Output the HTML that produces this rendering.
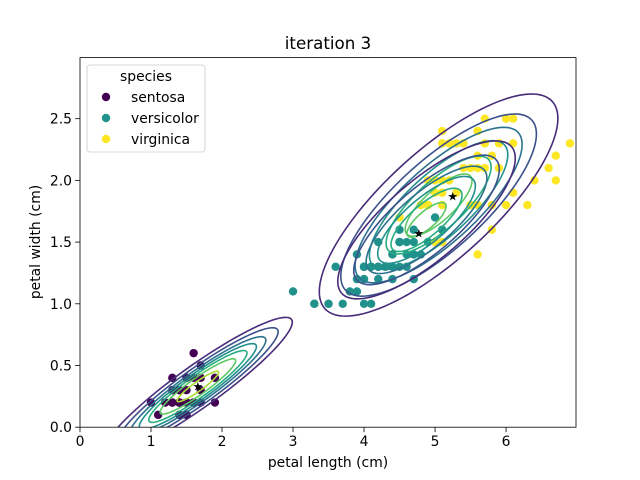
<!DOCTYPE html>
<html><head><meta charset="utf-8"><style>
body{margin:0;background:#fff;}
svg{display:block;font-family:"DejaVu Sans","Liberation Sans",sans-serif;}
</style></head><body>
<svg id="chart" width="640" height="480" viewBox="0 0 640 480">
<rect width="640" height="480" fill="#fff"/>
<text x="328" y="49" text-anchor="middle" font-size="16.7">iteration 3</text>
<defs><clipPath id="clip"><rect x="80" y="57.6" width="496" height="369.6"/></clipPath></defs>
<g id="points" clip-path="url(#clip)"></g>
<g id="contours" clip-path="url(#clip)"></g>
<g id="stars"></g>
<rect x="80" y="57.6" width="496" height="369.6" fill="none" stroke="#000" stroke-width="0.8"/>
<g id="axes"></g>
<text x="328" y="467" text-anchor="middle" font-size="13.9">petal length (cm)</text>
<text transform="translate(40,242) rotate(-90)" text-anchor="middle" font-size="13.9">petal width (cm)</text>
<g id="legend">
<rect x="87" y="65" width="118" height="87" rx="3" fill="#fff" fill-opacity="0.8" stroke="#ccc" stroke-width="0.8"/>
<text x="146" y="81" text-anchor="middle" font-size="13.9">species</text>
<circle cx="106" cy="97" r="4.2" fill="#440154"/>
<text x="131" y="102" font-size="13.9">sentosa</text>
<circle cx="106" cy="118" r="4.2" fill="#21918c"/>
<text x="131" y="123" font-size="13.9">versicolor</text>
<circle cx="106" cy="139" r="4.2" fill="#fde725"/>
<text x="131" y="144" font-size="13.9">virginica</text>
</g>
</svg>
<script>
const xTicks=[0,1,2,3,4,5,6];
const yTicks=[0.0,0.5,1.0,1.5,2.0,2.5];
const speciesColors=['#440154','#21918c','#fde725'];
const setosa=[[1.4,0.2],[1.4,0.2],[1.3,0.2],[1.5,0.2],[1.4,0.2],[1.7,0.4],[1.4,0.3],[1.5,0.2],[1.4,0.2],[1.5,0.1],[1.5,0.2],[1.6,0.2],[1.4,0.1],[1.1,0.1],[1.2,0.2],[1.5,0.4],[1.3,0.4],[1.4,0.3],[1.7,0.3],[1.5,0.3],[1.7,0.2],[1.5,0.4],[1.0,0.2],[1.7,0.5],[1.9,0.2],[1.6,0.2],[1.6,0.4],[1.5,0.2],[1.4,0.2],[1.6,0.2],[1.6,0.2],[1.5,0.4],[1.5,0.1],[1.4,0.2],[1.5,0.2],[1.2,0.2],[1.3,0.2],[1.4,0.1],[1.3,0.2],[1.5,0.2],[1.3,0.3],[1.3,0.3],[1.3,0.2],[1.6,0.6],[1.9,0.4],[1.4,0.3],[1.6,0.2],[1.4,0.2],[1.5,0.2],[1.4,0.2]];
const versicolor=[[4.7,1.4],[4.5,1.5],[4.9,1.5],[4.0,1.3],[4.6,1.5],[4.5,1.3],[4.7,1.6],[3.3,1.0],[4.6,1.3],[3.9,1.4],[3.5,1.0],[4.2,1.5],[4.0,1.0],[4.7,1.4],[3.6,1.3],[4.4,1.4],[4.5,1.5],[4.1,1.0],[4.5,1.5],[3.9,1.1],[4.8,1.8],[4.0,1.3],[4.9,1.5],[4.7,1.2],[4.3,1.3],[4.4,1.4],[4.8,1.4],[5.0,1.7],[4.5,1.5],[3.5,1.0],[3.8,1.1],[3.7,1.0],[3.9,1.2],[5.1,1.6],[4.5,1.5],[4.5,1.6],[4.7,1.5],[4.4,1.3],[4.1,1.3],[4.0,1.3],[4.4,1.2],[4.6,1.4],[4.0,1.2],[3.3,1.0],[4.2,1.3],[4.2,1.2],[4.2,1.3],[4.3,1.3],[3.0,1.1],[4.1,1.3]];
const virginica=[[6.0,2.5],[5.1,1.9],[5.9,2.1],[5.6,1.8],[5.8,2.2],[6.6,2.1],[4.5,1.7],[6.3,1.8],[5.8,1.8],[6.1,2.5],[5.1,2.0],[5.3,1.9],[5.5,2.1],[5.0,2.0],[5.1,2.4],[5.3,2.3],[5.5,1.8],[6.7,2.2],[6.9,2.3],[5.0,1.5],[5.7,2.3],[4.9,2.0],[6.7,2.0],[4.9,1.8],[5.7,2.1],[6.0,1.8],[4.8,1.8],[4.9,1.8],[5.6,2.1],[5.8,1.6],[6.1,1.9],[6.4,2.0],[5.6,2.2],[5.1,1.5],[5.6,1.4],[6.1,2.3],[5.6,2.4],[5.5,1.8],[4.8,1.8],[5.4,2.1],[5.6,2.4],[5.1,2.3],[5.1,1.9],[5.9,2.3],[5.7,2.5],[5.2,2.3],[5.0,1.9],[5.2,2.0],[5.4,2.3],[5.1,1.8]];
// component params: [meanX, meanY, sx, sy, rho] (outermost contour extents)
const compSetosa=[1.66,0.33,1.33,0.56,0.93];
const compVersicolor=[4.88,1.68,1.25,0.64,0.78];
const compVirginica=[5.05,1.8,1.68,0.9,0.78];
const levelsSetosa=[1,0.85,0.72,0.62,0.52,0.40,0.22];
const levelsVersicolor=[1,0.82,0.68,0.55,0.40,0.22];
const levelsVirginica=[1,0.82,0.70,0.58,0.44,0.28];
const levelColors=['#472c7a','#3b518b','#2c718e','#21908d','#27ad81','#5cc863','#aadc32'];
const meansX=[1.66,4.77,5.25];
const meansY=[0.33,1.57,1.87];

const NS='http://www.w3.org/2000/svg';
const X0=80,X1=576,Y0=427.2,Y1=57.6,XMIN=0,XMAX=6.985,YMIN=0,YMAX=2.995;
function sx(v){return X0+(v-XMIN)/(XMAX-XMIN)*(X1-X0);}
function sy(v){return Y0-(v-YMIN)/(YMAX-YMIN)*(Y0-Y1);}
function mk(tag,attrs,parent){const e=document.createElementNS(NS,tag);for(const k in attrs)e.setAttribute(k,attrs[k]);parent.appendChild(e);return e;}

const axes=document.getElementById('axes');
xTicks.forEach(t=>{
  const l=mk('line',{x1:sx(t),x2:sx(t),y1:Y0,y2:Y0+4.9,stroke:'#000','stroke-width':0.8},axes);
  
  
  const tx=mk('text',{x:sx(t),y:Y0+19,'text-anchor':'middle','font-size':13.9},axes);
  tx.textContent=String(t);
  
  
});
yTicks.forEach(t=>{
  const l=mk('line',{x1:X0-4.9,x2:X0,y1:sy(t),y2:sy(t),stroke:'#000','stroke-width':0.8},axes);
  
  
  const tx=mk('text',{x:X0-8,y:sy(t)+5,'text-anchor':'end','font-size':13.9},axes);
  tx.textContent=t.toFixed(1);
  
  
});

const pts=document.getElementById('points');
[setosa,versicolor,virginica].forEach((arr,i)=>{
  arr.forEach(p=>{
    const c=mk('circle',{cx:sx(p[0]),cy:sy(p[1]),r:4.2,fill:speciesColors[i]},pts);
    
    
  });
});

const cg=document.getElementById('contours');
function drawFamily(comp,levels){
  const [mx,my,ax,ay,rho]=comp;const q=Math.sqrt(1-rho*rho);
  levels.forEach((f,k)=>{
    let d='';
    for(let i=0;i<=120;i++){
      const t=i/120*2*Math.PI;
      const x=mx+f*ax*Math.cos(t);
      const y=my+f*ay*(rho*Math.cos(t)+q*Math.sin(t));
      d+=(i?'L':'M')+sx(x).toFixed(2)+','+sy(y).toFixed(2);
    }
    const p=mk('path',{d:d+'Z',fill:'none',stroke:levelColors[k],'stroke-width':1.6},cg);
    
    
  });
}
drawFamily(compSetosa,levelsSetosa);
drawFamily(compVirginica,levelsVirginica);
drawFamily(compVersicolor,levelsVersicolor);

const st=document.getElementById('stars');
meansX.forEach((mx,i)=>{
  const s=mk('text',{x:sx(mx),y:sy(meansY[i])+4,'text-anchor':'middle','font-size':12,fill:'#000'},st);
  s.textContent='★';
  
  
});
</script>
</body></html>
